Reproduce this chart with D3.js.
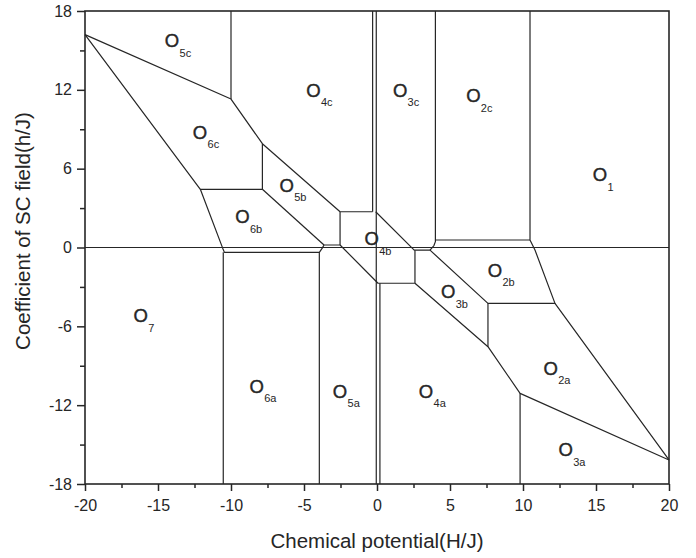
<!DOCTYPE html>
<html>
<head>
<meta charset="utf-8">
<script src="https://cdn.jsdelivr.net/npm/d3@7"></script>
<style>
  html, body { margin: 0; padding: 0; background: #fff; }
  svg { display: block; font-family: "Liberation Sans", Arial, sans-serif; }
</style>
</head>
<body>
<svg id="chart" width="696" height="558"></svg>
<script>
// ---------- data ----------
const xTicks = [-20, -15, -10, -5, 0, 5, 10, 15, 20];
const xMinorTicks = [-17.5, -12.5, -7.5, -2.5, 2.5, 7.5, 12.5, 17.5];
const yTicks = [-18, -12, -6, 0, 6, 12, 18];
const yMinorTicks = [-15, -9, -3, 3, 9, 15];

const xTitle = "Chemical potential(H/J)";
const yTitle = "Coefficient of SC field(h/J)";

// phase labels O_sub placed at (x, y) in data units
const phaseNames = ["5c", "4c", "3c", "2c", "1", "6c", "5b", "6b", "4b", "2b", "3b", "7", "6a", "5a", "4a", "2a", "3a"];
const phaseX = [-14.04, -4.35, 1.58, 6.6, 15.27, -12.12, -6.19, -9.22, -0.36, 8.08, 4.88, -16.18, -8.24, -2.53, 3.36, 11.9, 12.92];
const phaseY = [15.79, 11.99, 12.0, 11.6, 5.57, 8.81, 4.76, 2.35, 0.7, -1.71, -3.36, -5.14, -10.54, -10.9, -10.9, -9.15, -15.36];

// phase boundaries (polylines, data units)
const upperLeftEdge = [[-20, 16.2], [-10, 11.3], [-7.85, 7.9], [-2.53, 2.72]];
const fiveCRightEdge = [[-10, 18], [-10, 11.3]];
const lowerLeftEdge = [[-20, 16.2], [-12.1, 4.43], [-10.57, -0.05], [-10.45, -0.37], [-3.95, -0.37], [-3.75, -0.05], [-3.63, 0.19], [-2.53, 0.19]];
const sixAVerticalLeft = [[-10.53, -0.37], [-10.53, -18]];
const sixAVerticalRight = [[-3.95, -0.37], [-3.95, -18]];
const sixBTop = [[-12.1, 4.43], [-7.85, 4.43], [-7.85, 7.9]];
const fiveBLower = [[-7.85, 4.43], [-3.63, 0.19]];
const boxTopLeft = [[-0.3, 2.72], [-2.53, 2.72], [-2.53, 0.19]];
const boxBottomRight = [[-2.53, 0.19], [0.07, -2.72], [2.6, -2.72], [2.6, -0.2]];
const fourBDiagonal = [[-0.09, 2.72], [2.55, -0.2], [3.63, -0.2]];
const threeCRightEdge = [[3.63, -0.2], [3.9, 0.15], [4.0, 0.45], [4.0, 18]];
const twoCBottom = [[4.0, 0.57], [10.48, 0.57]];
const rightEdge = [[10.48, 18], [10.48, 0.57], [10.82, -0.19], [12.19, -4.25], [20, -16.17]];
const twoBLower = [[3.63, -0.2], [7.6, -4.25], [12.19, -4.25]];
const twoAVertical = [[7.6, -4.25], [7.6, -7.55]];
const threeBLower = [[2.6, -2.72], [7.6, -7.55], [9.8, -11.1], [20, -16.17]];
const threeAVertical = [[9.8, -11.1], [9.8, -18]];
const zeroFieldLine = [[-20, 0], [20, 0]];
const zeroMuLine = [[-0.05, 18], [-0.05, -18]];
const zeroMuUpper = [[-0.3, 18], [-0.3, 2.72]];
const zeroMuLower = [[0.2, -2.72], [0.2, -18]];

const boundaries = [upperLeftEdge, fiveCRightEdge, lowerLeftEdge, sixAVerticalLeft, sixAVerticalRight,
  sixBTop, fiveBLower, boxTopLeft, boxBottomRight, fourBDiagonal, threeCRightEdge, twoCBottom,
  rightEdge, twoBLower, twoAVertical, threeBLower, threeAVertical, zeroFieldLine, zeroMuLine,
  zeroMuUpper, zeroMuLower];

// ---------- layout ----------
const plotLeft = 85, plotRight = 669, plotTop = 11, plotBottom = 484;
const ink = "#262626";

const svg = d3.select("#chart");
const x = d3.scaleLinear().domain([-20, 20]).range([plotLeft, plotRight]);
const y = d3.scaleLinear().domain([-18, 18]).range([plotBottom, plotTop]);

const line = d3.line().x(d => x(d[0])).y(d => y(d[1]));
const fmt = d => String(d);

// boundaries
svg.append("g")
  .selectAll("path")
  .data(boundaries)
  .join("path")
  .attr("d", line)
  .attr("fill", "none")
  .attr("stroke", ink)
  .attr("stroke-width", 1.2)
  .attr("stroke-linejoin", "round");

// frame
svg.append("rect")
  .attr("x", plotLeft).attr("y", plotTop)
  .attr("width", plotRight - plotLeft).attr("height", plotBottom - plotTop)
  .attr("fill", "none").attr("stroke", ink).attr("stroke-width", 1.6);

// x axis
svg.append("g").attr("transform", `translate(0,${plotBottom})`)
  .call(d3.axisBottom(x).tickValues(xTicks).tickSize(7).tickPadding(9).tickFormat(fmt));
svg.append("g").attr("transform", `translate(0,${plotBottom})`)
  .call(d3.axisBottom(x).tickValues(xMinorTicks).tickSize(4).tickFormat(""));

// y axis
svg.append("g").attr("transform", `translate(${plotLeft},0)`)
  .call(d3.axisLeft(y).tickValues(yTicks).tickSize(8).tickPadding(5).tickFormat(fmt));
svg.append("g").attr("transform", `translate(${plotLeft},0)`)
  .call(d3.axisLeft(y).tickValues(yMinorTicks).tickSize(5).tickFormat(""));

svg.selectAll(".domain").remove();
svg.selectAll(".tick line").attr("stroke", ink).attr("stroke-width", 1.5);
svg.selectAll(".tick text")
  .attr("fill", ink)
  .style("font-size", "16px")
  .style("font-family", "'Liberation Sans', Arial, sans-serif");

// axis titles
svg.append("text")
  .attr("x", (plotLeft + plotRight) / 2).attr("y", 548)
  .attr("text-anchor", "middle")
  .attr("fill", ink)
  .style("font-size", "20.5px")
  .text(xTitle);

svg.append("text")
  .attr("transform", `translate(29.5,231) rotate(-90)`)
  .attr("text-anchor", "middle")
  .attr("fill", ink)
  .style("font-size", "20.5px")
  .text(yTitle);

// phase labels
const labels = svg.append("g")
  .selectAll("g")
  .data(phaseNames.map((n, i) => ({ name: n, x: phaseX[i], y: phaseY[i] })))
  .join("g")
  .attr("transform", d => `translate(${x(d.x)},${y(d.y)})`);

labels.append("text")
  .attr("x", 0).attr("y", 6.8)
  .attr("text-anchor", "middle")
  .attr("fill", ink)
  .attr("stroke", ink)
  .attr("stroke-width", 0.4)
  .style("font-size", "18.5px")
  .text("O");

labels.append("text")
  .attr("x", 7.5).attr("y", 16.5)
  .attr("fill", ink)
  .style("font-size", "11px")
  .text(d => d.name);
</script>
</body>
</html>
